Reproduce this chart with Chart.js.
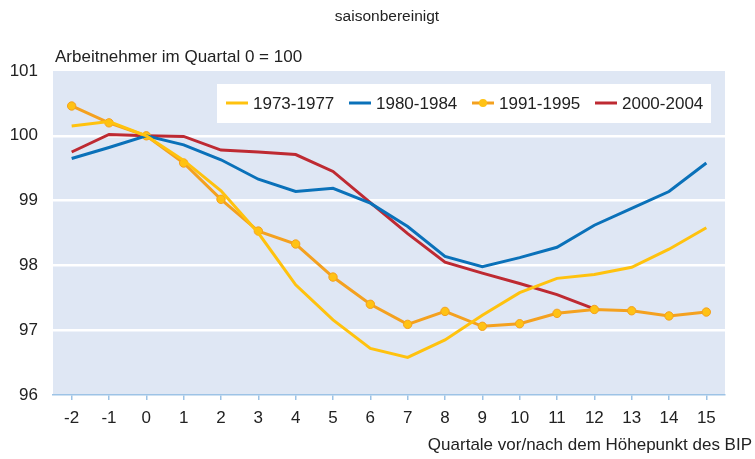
<!DOCTYPE html>
<html>
<head>
<meta charset="utf-8">
<script src="https://cdn.jsdelivr.net/npm/chart.js@4.4.1/dist/chart.umd.min.js"></script>
<style>
  html, body { margin: 0; padding: 0; background: #fff; }
  #wrap { width: 755px; height: 459px; }
</style>
</head>
<body>
<div id="wrap"><canvas id="chart" width="755" height="459"></canvas></div>
<script>
// quarters before/after GDP peak
const quarters = ['-2', '-1', '0', '1', '2', '3', '4', '5', '6', '7', '8', '9', '10', '11', '12', '13', '14', '15'];
const s1973 = [100.15, 100.22, 100, 99.62, 99.15, 98.5, 97.7, 97.16, 96.72, 96.58, 96.85, 97.23, 97.58, 97.8, 97.86, 97.97, 98.25, 98.58];
const s1980 = [99.65, 99.82, 100, 99.86, 99.63, 99.33, 99.14, 99.19, 98.96, 98.6, 98.14, 97.98, 98.12, 98.28, 98.62, 98.88, 99.14, 99.58];
const s1991 = [100.46, 100.2, 100, 99.58, 99.02, 98.53, 98.33, 97.82, 97.4, 97.09, 97.29, 97.06, 97.1, 97.26, 97.32, 97.3, 97.22, 97.28];
const s2000 = [99.75, 100.02, 100, 99.99, 99.78, 99.75, 99.71, 99.45, 98.97, 98.49, 98.05, 97.88, 97.72, 97.55, 97.33, null, null, null];
const seriesNames = ['1973-1977', '1980-1984', '1991-1995', '2000-2004'];

const textColor = '#222';
const fontFamily = '"Liberation Sans", Arial, sans-serif';

// plot background, texts and the in-plot legend
const decor = {
  id: 'decor',
  beforeDraw(chart) {
    const { ctx, chartArea: a } = chart;
    ctx.save();
    ctx.fillStyle = '#dfe7f4';
    ctx.fillRect(a.left, a.top, a.right - a.left, a.bottom - a.top);
    ctx.restore();
  },
  afterDraw(chart) {
    const { ctx } = chart;
    ctx.save();
    ctx.fillStyle = textColor;
    ctx.textBaseline = 'middle';
    ctx.font = '15.5px ' + fontFamily;
    ctx.textAlign = 'center';
    ctx.fillText('saisonbereinigt', 387, 17);
    ctx.font = '17px ' + fontFamily;
    ctx.textAlign = 'left';
    ctx.fillText('Arbeitnehmer im Quartal 0 = 100', 55, 57);
    ctx.textAlign = 'right';
    ctx.fillText('Quartale vor/nach dem Höhepunkt des BIP', 752, 445);

    // legend box
    ctx.fillStyle = '#fff';
    ctx.fillRect(217, 84, 494, 39);
    const xs = [226, 349, 472, 595];
    ctx.font = '17px ' + fontFamily;
    ctx.textAlign = 'left';
    chart.data.datasets.forEach((ds, i) => {
      const x = xs[i], y = 103;
      ctx.strokeStyle = ds.borderColor;
      ctx.lineWidth = 3;
      ctx.beginPath();
      ctx.moveTo(x, y);
      ctx.lineTo(x + 22, y);
      ctx.stroke();
      if (ds.pointRadius > 0) {
        ctx.fillStyle = ds.pointBackgroundColor;
        ctx.beginPath();
        ctx.arc(x + 11, y, 4, 0, Math.PI * 2);
        ctx.fill();
      }
      ctx.fillStyle = textColor;
      ctx.fillText(ds.label, x + 27, y + 1);
    });
    ctx.restore();
  }
};

const ctx = document.getElementById('chart').getContext('2d');
new Chart(ctx, {
  type: 'line',
  data: {
    labels: quarters,
    datasets: [
      { label: seriesNames[0], data: s1973, borderColor: '#ffc20e', borderWidth: 3, pointRadius: 0, tension: 0 },
      { label: seriesNames[1], data: s1980, borderColor: '#0a71b9', borderWidth: 3, pointRadius: 0, tension: 0 },
      { label: seriesNames[2], data: s1991, borderColor: '#f4a11f', borderWidth: 3, pointRadius: 4.2,
        pointBackgroundColor: '#ffc214', pointBorderColor: '#f4a11f', pointBorderWidth: 1, tension: 0 },
      { label: seriesNames[3], data: s2000, borderColor: '#be2a32', borderWidth: 3, pointRadius: 0, tension: 0 }
    ]
  },
  options: {
    responsive: false,
    animation: false,
    layout: { padding: { left: 0, right: 30, top: 71, bottom: 0 } },
    plugins: { legend: { display: false }, tooltip: { enabled: false } },
    scales: {
      x: {
        offset: true,
        grid: { display: true, drawOnChartArea: false, drawTicks: true, tickLength: 5, color: '#9dc3e6', lineWidth: 1.5 },
        border: { color: '#9dc3e6', width: 1.5 },
        ticks: { color: textColor, font: { size: 17, family: fontFamily }, padding: 8, maxRotation: 0 },
        afterFit(scale) { scale.height = 64; }
      },
      y: {
        min: 96, max: 101,
        ticks: { stepSize: 1, color: textColor, font: { size: 17, family: fontFamily }, padding: 15 },
        grid: {
          drawTicks: false,
          lineWidth: 2.5,
          color: c => (c.tick && c.tick.value > 96 && c.tick.value < 101) ? '#ffffff' : 'rgba(0,0,0,0)'
        },
        border: { display: false },
        afterFit(scale) { scale.width = 53; }
      }
    }
  },
  plugins: [decor]
});
</script>
</body>
</html>
